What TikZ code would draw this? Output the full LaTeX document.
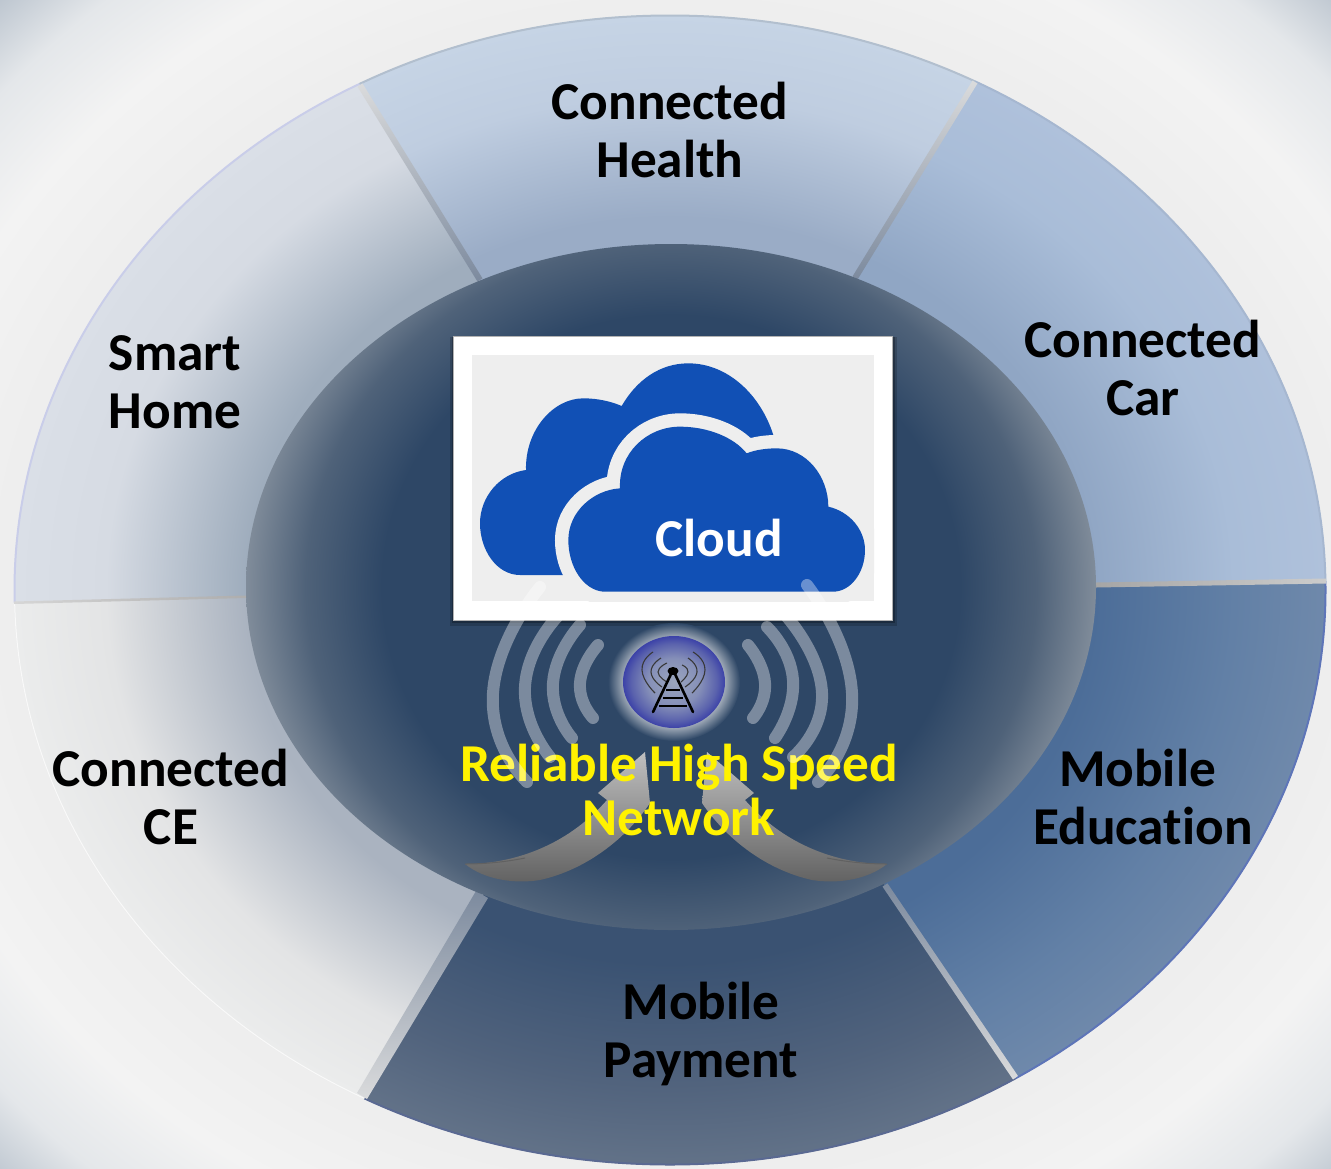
\documentclass[tikz,border=0pt]{standalone}
\usepackage{fontspec}
\setmainfont{Carlito}[Ligatures={NoCommon,TeX}]
\definecolor{bgA}{HTML}{EEEEEE}\definecolor{bgB}{HTML}{F3F3F3}\definecolor{bgC}{HTML}{E4E7EA}\definecolor{bgD}{HTML}{BCC5CF}
\definecolor{homeA}{HTML}{9FADBD}\definecolor{homeB}{HTML}{D6DBE3}\definecolor{homeC}{HTML}{DADFE7}
\definecolor{ceA}{HTML}{AAB3C0}\definecolor{ceB}{HTML}{E3E4E5}\definecolor{ceC}{HTML}{EBECEC}
\definecolor{healthA}{HTML}{9AACC6}\definecolor{healthB}{HTML}{BFCDE0}\definecolor{healthC}{HTML}{C6D4E5}
\definecolor{carA}{HTML}{90A6C4}\definecolor{carB}{HTML}{A9BDD8}\definecolor{carC}{HTML}{AFC1DB}
\definecolor{eduA}{HTML}{4C6D98}\definecolor{eduB}{HTML}{6280A6}\definecolor{eduC}{HTML}{6F89AB}
\definecolor{payA}{HTML}{3A5272}\definecolor{payB}{HTML}{51637D}\definecolor{payC}{HTML}{627288}
\definecolor{coreA}{HTML}{2E4766}\definecolor{coreB}{HTML}{4F6279}\definecolor{coreC}{HTML}{808C9A}
\definecolor{cloudblue}{HTML}{1150B5}\definecolor{boxgrey}{HTML}{EEEEEE}
\definecolor{iconA}{HTML}{9BA6BD}\definecolor{iconB}{HTML}{858FB8}\definecolor{iconC}{HTML}{5A62AD}\definecolor{iconD}{HTML}{3C42A8}
\definecolor{haloA}{HTML}{A3ADBA}
\definecolor{sepDark}{HTML}{7C8A9E}\definecolor{sepLight}{HTML}{DADBDC}
\pgfdeclareradialshading{bgshade}{\pgfpoint{0bp}{0bp}}{color(0bp)=(bgA); color(17.5bp)=(bgA); color(20.5bp)=(bgB); color(23bp)=(bgC); color(25bp)=(bgD); color(50bp)=(bgD)}
\newcommand{\segshade}[1]{\pgfdeclareradialshading{#1shade}{\pgfpoint{0bp}{0bp}}{color(0bp)=(#1A); color(16.2bp)=(#1A); color(21.5bp)=(#1B); color(25bp)=(#1C); color(50bp)=(#1C)}}
\segshade{home}\segshade{ce}\segshade{health}\segshade{car}\segshade{edu}\segshade{pay}
\pgfdeclareradialshading{coreshade}{\pgfpoint{0bp}{0bp}}{color(0bp)=(coreA); color(17bp)=(coreA); color(21.5bp)=(coreB); color(25bp)=(coreC); color(50bp)=(coreC)}
\pgfdeclareradialshading{iconshade}{\pgfpoint{0bp}{0bp}}{color(0bp)=(iconA); color(13bp)=(iconB); color(21bp)=(iconC); color(25bp)=(iconD); color(50bp)=(iconD)}
\pgfdeclareradialshading{haloshade}{\pgfpoint{0bp}{0bp}}{color(0bp)=(haloA); color(19bp)=(haloA); color(25bp)=(coreA); color(50bp)=(coreA)}
\tikzset{
  seglabel/.style={font=\fontsize{53.3}{58}\selectfont\bfseries,align=center,text=black,inner sep=0pt},
  wave/.style={white,opacity=.37,line width=12pt,line cap=round},
  towerline/.style={black,line width=2.6pt},
  ripple/.style={black!78,line width=1.1pt},
  arrowbody/.style={top color=black!25,middle color=black!32,bottom color=black!62}
}
\newcommand{\segment}[4]{\begin{scope}\clip #2;
  \shade[shading=#1shade] (670,590) ellipse [x radius=656,y radius=575];
  \draw[#3,line width=#4] (670,590) ellipse [x radius=655.5,y radius=574.5];
\end{scope}}
\newcommand{\frontcloud}{(490,815) .. controls (430,810) and (385,740) .. (385,660)
  .. controls (385,575) and (460,510) .. (540,505) .. controls (535,400) and (620,320) .. (720,320)
  .. controls (800,320) and (880,350) .. (920,400) .. controls (950,388) and (985,385) .. (1010,385)
  .. controls (1100,385) and (1165,470) .. (1165,560) .. controls (1230,575) and (1275,630) .. (1275,690)
  .. controls (1275,760) and (1230,815) .. (1180,815) -- cycle}
\begin{document}
\begin{tikzpicture}[x=1pt,y=-1pt]
\useasboundingbox (0,0) rectangle (1331,1168);
% background
\begin{scope}
\clip (0,0) rectangle (1331,1168);
\shade[shading=bgshade] (670,590) ellipse [x radius=953,y radius=836];
\end{scope}
% ring segments
\segment{home}{(671,587)--(480,280)--(340,52)--(340,-50)--(-50,-50)--(-50,604)--(246,597)--cycle}{homeC!92!blue}{2pt}
\segment{health}{(671,587)--(480,280)--(340,52)--(340,-50)--(995,-50)--(995,49)--(855,278)--cycle}{healthC!90!black}{2pt}
\segment{car}{(671,587)--(855,278)--(995,49)--(995,-50)--(1400,-50)--(1400,580)--(1096,585)--cycle}{carC!95!black}{2pt}
\segment{edu}{(671,587)--(1096,585)--(1400,580)--(1400,1250)--(1040,1250)--(1040,1115)--(885,885)--cycle}{eduC!85!blue}{2pt}
\segment{pay}{(671,587)--(885,885)--(1040,1115)--(1040,1250)--(340,1250)--(340,1140)--(483,895)--cycle}{payC!92!blue}{2pt}
\segment{ce}{(671,587)--(483,895)--(340,1140)--(340,1250)--(-50,1250)--(-50,604)--(246,597)--cycle}{white!70!ceC}{1pt}
% separators
\shade[top color=sepLight,bottom color=sepDark] (357.5,86.6)--(362.5,83.4)--(482.5,278.4)--(477.5,281.6)--cycle;
\shade[top color=sepLight,bottom color=sepDark] (972.5,80.6)--(977.5,83.4)--(857.5,279.6)--(852.5,276.4)--cycle;
\shade[left color=black!35,right color=black!20] (1096,582.5)--(1326,578.5)--(1326,583.5)--(1096,587.5)--cycle;
\shade[top color=sepDark,bottom color=sepLight] (882.5,886.6)--(887.5,883.4)--(1018,1076)--(1013,1079.5)--cycle;
\shade[top color=sepDark,bottom color=sepLight] (476,891)--(488,898)--(367,1099)--(357,1093)--cycle;
\shade[left color=black!16,right color=black!32] (14,601.5)--(246,595.5)--(246,598)--(14,604)--cycle;
% core ellipse
\begin{scope}
\clip (671,587) ellipse [x radius=425,y radius=343];
\shade[shading=coreshade] (671,587) ellipse [x radius=425,y radius=400];
\end{scope}
% cloud box
\fill[black,opacity=.18] (450,337) rectangle (897,626);
\fill[black,opacity=.25] (452,337) rectangle (895,623);
\filldraw[draw=black!30,fill=white,line width=1pt] (453,336) rectangle (892,620);
\fill[boxgrey] (472,355) rectangle (874,601);
\begin{scope}
\clip (472,355) rectangle (874,601);
\begin{scope}[shift={(440,320)},x=.33333pt,y=-.33333pt]
\fill[cloudblue] (370,765) -- (240,765) .. controls (170,765) and (120,690) .. (120,610)
  .. controls (120,530) and (180,460) .. (258,450) .. controls (255,330) and (340,235) .. (430,235)
  .. controls (475,235) and (515,245) .. (545,258) .. controls (590,180) and (660,130) .. (745,130)
  .. controls (860,130) and (960,220) .. (1000,345) -- (925,360) -- (700,400) -- (400,600) -- cycle;
\draw[boxgrey,line width=26.7pt,line join=round] \frontcloud;
\fill[cloudblue] \frontcloud;
\end{scope}
\end{scope}
\node[seglabel,text=white] (cloud) at (719,538) {Cloud};
% tower icon
\shade[shading=haloshade] (674,682) ellipse [x radius=66,y radius=59];
\shade[shading=iconshade] (674,682) ellipse [x radius=51,y radius=46];
\draw[ripple] plot[smooth,tension=1] coordinates {(653,652)(642,670)(655,693)};
\draw[ripple] plot[smooth,tension=1] coordinates {(661,658)(651,672)(662,687)};
\draw[ripple] plot[smooth,tension=1] coordinates {(667,663)(658,672)(667,682)};
\draw[ripple] plot[smooth,tension=1] coordinates {(693,652)(705,670)(692,693)};
\draw[ripple] plot[smooth,tension=1] coordinates {(688,658)(697,672)(685,687)};
\draw[ripple] plot[smooth,tension=1] coordinates {(682,665)(688,672)(681,682)};
\fill[black] (673,671) ellipse [x radius=5.5,y radius=4];
\draw[towerline,line cap=round] (671,674) -- (653,712);
\draw[towerline,line cap=round] (675,674) -- (693,712);
\draw[towerline] (666,690) -- (680,690);
\draw[towerline] (663,698) -- (683,698);
\draw[towerline] (659,706) -- (687,706);
% arrows
\shade[arrowbody] (465,864) .. controls (510,864) and (565,848) .. (607,800) -- (598,793) -- (645,752) -- (650,803)
  .. controls (625,840) and (585,870) .. (540,880) .. controls (515,884) and (485,880) .. (465,864) -- cycle;
\shade[arrowbody] (887,864) .. controls (842,864) and (787,848) .. (745,800) -- (754,793) -- (707,752) -- (702,803)
  .. controls (727,840) and (767,870) .. (812,880) .. controls (837,884) and (867,880) .. (887,864) -- cycle;
\draw[black!62,line width=1pt] (465,864) .. controls (485,864) and (505,862) .. (525,858);
\draw[black!62,line width=1pt] (887,864) .. controls (867,864) and (847,862) .. (827,858);
% labels
\node[seglabel] (health) at (670,130) {Connected\\Health};
\node[seglabel] (car) at (1143,367.5) {Connected\\Car};
\node[seglabel] (home) at (175,382) {Smart\\Home};
\node[seglabel] (ce) at (171,797) {Connected\\CE};
\node[seglabel] (edu) at (1143,797) {Mobile\hspace*{11pt}\\Education};
\node[seglabel] (pay) at (701,1034) {Mobile\\Payment};
\node[seglabel,text=yellow,font=\fontsize{53.3}{54}\selectfont\bfseries] (net) at (679,790) {Reliable High Speed\\Network};
% waves
\draw[wave] plot[smooth,tension=1] coordinates {(598,645)(580,683)(593,718)};
\draw[wave] plot[smooth,tension=1] coordinates {(580,625)(553,683)(572,738)};
\draw[wave] plot[smooth,tension=1] coordinates {(557,617)(525,687)(550,757)};
\draw[wave] plot[smooth,tension=1] coordinates {(540,587)(493,693)(527,782)};
\draw[wave] plot[smooth,tension=1] coordinates {(748,645)(765,683)(753,718)};
\draw[wave] plot[smooth,tension=1] coordinates {(767,627)(793,680)(775,738)};
\draw[wave] plot[smooth,tension=1] coordinates {(787,617)(822,693)(793,757)};
\draw[wave] plot[smooth,tension=1] coordinates {(807,585)(852,693)(818,782)};
\end{tikzpicture}
\end{document}
